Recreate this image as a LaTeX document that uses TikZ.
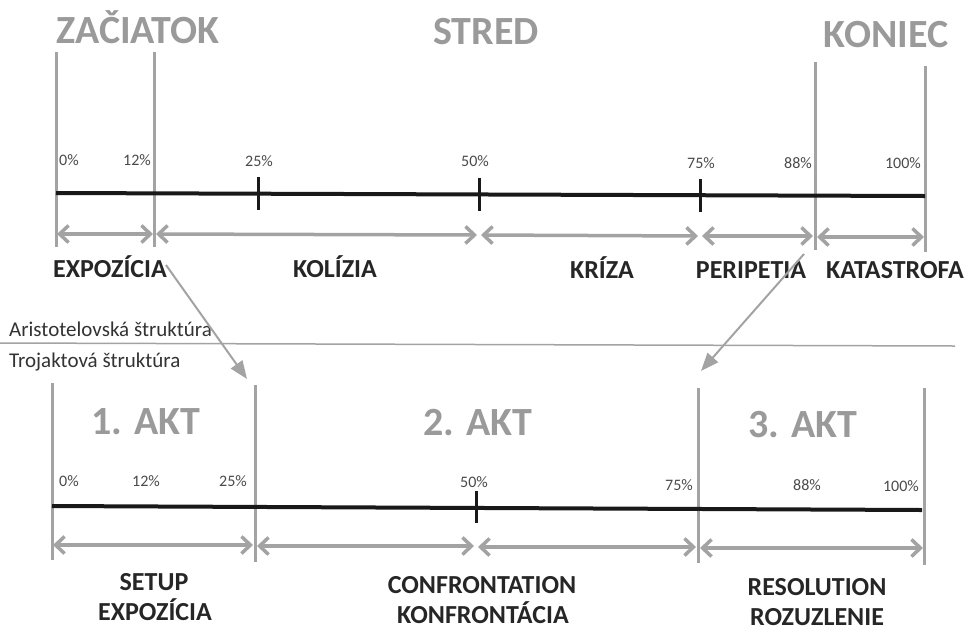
\documentclass[tikz,border=0pt]{standalone}
\usepackage{fontspec}
\setmainfont{Carlito}
\usetikzlibrary{arrows.meta}
\definecolor{tgray}{HTML}{9A9A9A}
\definecolor{lgray}{HTML}{A3A3A3}
\definecolor{pgray}{HTML}{4A4A4A}
\begin{document}
\begin{tikzpicture}[x=1pt,y=-1pt,
  title/.style={font=\fontsize{40}{42}\selectfont\bfseries, text=tgray, inner sep=0pt, anchor=base},
  pct/.style={font=\fontsize{16}{18}\selectfont, text=pgray, inner sep=0pt, anchor=base},
  lab/.style={font=\fontsize{26}{28}\selectfont\bfseries, text=black!85, inner sep=0pt, anchor=base},
  struct/.style={font=\fontsize{21}{23}\selectfont, text=black!80, inner sep=0pt, anchor=base west},
  vline/.style={draw=lgray, line width=3pt},
  tline/.style={draw=black!90, line width=4pt},
  tickmark/.style={draw=black!90, line width=3pt},
  span/.style={draw=lgray, line width=3.5pt,
    {Straight Barb[length=9pt,width=17pt,line width=3.5pt]}-{Straight Barb[length=9pt,width=17pt,line width=3.5pt]}},
  diag/.style={draw=lgray, line width=2pt, -{Triangle[length=18pt,width=14pt]}},
  sep/.style={draw=lgray, line width=1.5pt},
]
\useasboundingbox (0,0) rectangle (971,630);

% ---------------- top: Aristotelian structure ----------------
\node[title] (zac) at (138,43) {ZAČIATOK};
\node[title] (str) at (486,44) {STRED};
\node[title] (kon) at (886,47) {KONIEC};

\coordinate (v1t) at (56,52);  \coordinate (v1b) at (56,247);
\coordinate (v2t) at (154,52); \coordinate (v2b) at (154,247);
\coordinate (v3t) at (815,62); \coordinate (v3b) at (815,250);
\coordinate (v4t) at (925,66); \coordinate (v4b) at (925,252);
\draw[vline] (v1t) -- (v1b);
\draw[vline] (v2t) -- (v2b);
\draw[vline] (v3t) -- (v3b);
\draw[vline] (v4t) -- (v4b);

\coordinate (t0) at (56,193); \coordinate (t100) at (925,196);
\draw[tline] (t0) -- (t100);
\coordinate (k25a) at (258,177); \coordinate (k25b) at (258,210);
\coordinate (k50a) at (479,178); \coordinate (k50b) at (479,211);
\coordinate (k75a) at (700,179); \coordinate (k75b) at (700,212);
\draw[tickmark] (k25a) -- (k25b);
\draw[tickmark] (k50a) -- (k50b);
\draw[tickmark] (k75a) -- (k75b);

\node[pct] (p0)   at (69,165)  {0\%};
\node[pct] (p12)  at (137,165) {12\%};
\node[pct] (p25)  at (259,166) {25\%};
\node[pct] (p50)  at (475,166) {50\%};
\node[pct] (p75)  at (701,168) {75\%};
\node[pct] (p88)  at (798,168) {88\%};
\node[pct] (p100) at (903,168) {100\%};

\coordinate (s1) at (57,234);  \coordinate (s2) at (153,234);
\coordinate (s3) at (156,234); \coordinate (s4) at (477,235);
\coordinate (s5) at (481,235); \coordinate (s6) at (698,236);
\coordinate (s7) at (702,236); \coordinate (s8) at (813,236);
\coordinate (s9) at (817,237); \coordinate (s10) at (924,237);
\draw[span] (s1) -- (s2);
\draw[span] (s3) -- (s4);
\draw[span] (s5) -- (s6);
\draw[span] (s7) -- (s8);
\draw[span] (s9) -- (s10);

\node[lab] (expo)  at (110,277) {EXPOZÍCIA};
\node[lab] (kol)   at (335,277) {KOLÍZIA};
\node[lab] (kri)   at (602,278) {KRÍZA};
\node[lab] (peri)  at (751,278) {PERIPETIA};
\node[lab] (kata)  at (895,278) {KATASTROFA};

% ---------------- separator ----------------
\node[struct] (ari) at (9,336) {Aristotelovská štruktúra};
\coordinate (sepL) at (0,343); \coordinate (sepR) at (955,346);
\draw[sep] (sepL) -- (sepR);
\node[struct] (troj) at (9,367) {Trojaktová štruktúra};

% ---------------- bottom: three-act structure ----------------
\coordinate (w1t) at (52,383);  \coordinate (w1b) at (52,560);
\coordinate (w2t) at (255,385); \coordinate (w2b) at (255,562);
\coordinate (w3t) at (698,388); \coordinate (w3b) at (698,563);
\coordinate (w4t) at (924,388); \coordinate (w4b) at (924,565);
\draw[vline] (w1t) -- (w1b);
\draw[vline] (w2t) -- (w2b);
\draw[vline] (w3t) -- (w3b);
\draw[vline] (w4t) -- (w4b);

\node[title] (akt1) at (146,434) {1. AKT};
\node[title] (akt2) at (478,435) {2. AKT};
\node[title] (akt3) at (803,437) {3. AKT};

\node[pct] (q0)   at (69,486)  {0\%};
\node[pct] (q12)  at (146,486) {12\%};
\node[pct] (q25)  at (233,486) {25\%};
\node[pct] (q50)  at (474,487) {50\%};
\node[pct] (q75)  at (679,490) {75\%};
\node[pct] (q88)  at (807,490) {88\%};
\node[pct] (q100) at (901,491) {100\%};

\coordinate (u0) at (52,506); \coordinate (u100) at (922,510);
\draw[tline] (u0) -- (u100);
\coordinate (m50a) at (476,491); \coordinate (m50b) at (476,523);
\draw[tickmark] (m50a) -- (m50b);

\coordinate (r1) at (53,545);  \coordinate (r2) at (253,545);
\coordinate (r3) at (257,546); \coordinate (r4) at (474,546);
\coordinate (r5) at (478,547); \coordinate (r6) at (696,547);
\coordinate (r7) at (700,548); \coordinate (r8) at (923,548);
\draw[span] (r1) -- (r2);
\draw[span] (r3) -- (r4);
\draw[span] (r5) -- (r6);
\draw[span] (r7) -- (r8);

\node[lab] (setup)  at (154,590) {SETUP};
\node[lab] (setup2) at (155,620) {EXPOZÍCIA};
\node[lab] (conf)   at (482,593) {CONFRONTATION};
\node[lab] (conf2)  at (483,623) {KONFRONTÁCIA};
\node[lab] (reso)   at (817,595) {RESOLUTION};
\node[lab] (reso2)  at (817,625) {ROZUZLENIE};

% ---------------- linking arrows ----------------
\coordinate (d1s) at (166,265); \coordinate (d1e) at (247,379);
\coordinate (d2s) at (804,254); \coordinate (d2e) at (701,371);
\draw[diag] (d1s) -- (d1e);
\draw[diag] (d2s) -- (d2e);
\end{tikzpicture}
\end{document}
